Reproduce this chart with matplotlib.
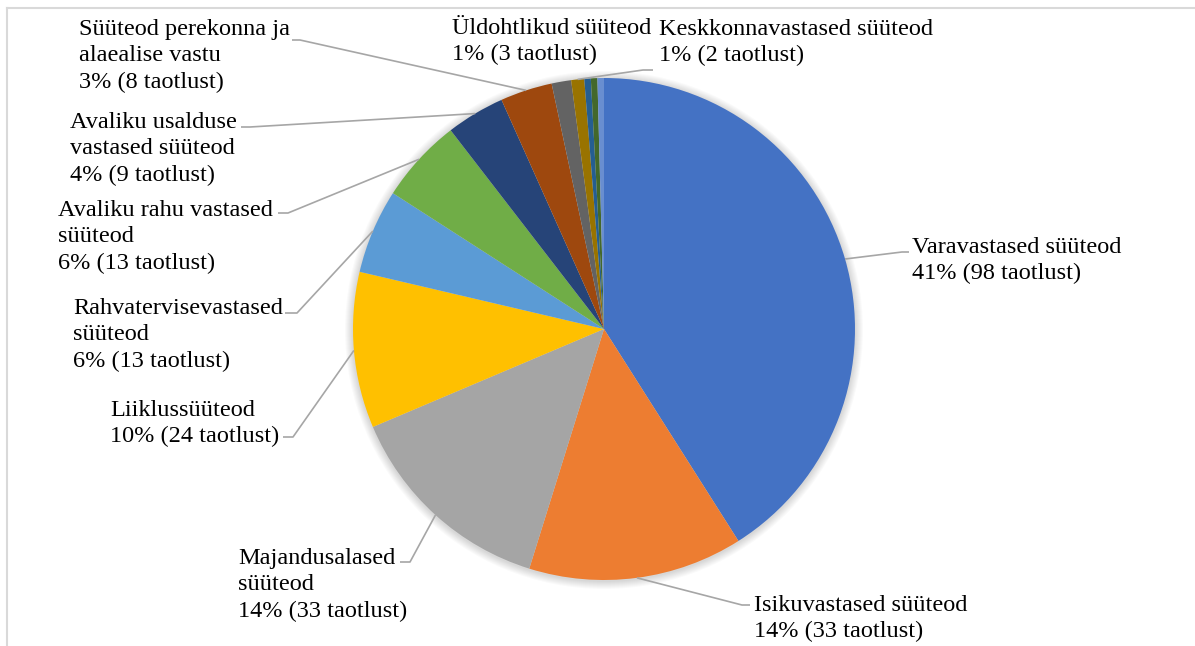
import numpy as np
import matplotlib.pyplot as plt
from matplotlib.patches import Circle

# counts per crime category (clockwise from 12 o'clock)
categories = [
    "Varavastased süüteod",
    "Isikuvastased süüteod",
    "Majandusalased\nsüüteod",
    "Liiklussüüteod",
    "Rahvatervisevastased\nsüüteod",
    "Avaliku rahu vastased\nsüüteod",
    "Avaliku usalduse\nvastased süüteod",
    "Süüteod perekonna ja\nalaealise vastu",
    "Üldohtlikud süüteod",
    "Keskkonnavastased süüteod",
    "",
    "",
    "",
]
counts = [98, 33, 33, 24, 13, 13, 9, 8, 3, 2, 1, 1, 1]
pct_shown = [41, 14, 14, 10, 6, 6, 4, 3, 1, 1, None, None, None]

colors = ["#4472C4", "#ED7D31", "#A5A5A5", "#FFC000", "#5B9BD5", "#70AD47",
          "#264478", "#9E480E", "#636363", "#997300", "#255E91", "#43682B",
          "#698ED0"]

# label placement in pixels: (text x, first line centre y, elbow x, elbow y, tail x)
W, H = 1195, 646
label_pos = [
    (912, 246, 902, 252, 909),
    (754, 604, 742, 605, 750),
    (238, 557, 410, 562, 400),
    (110, 409, 293, 437, 283),
    (73, 307, 297, 313, 285),
    (58, 209, 288, 213, 278),
    (70, 121, 250, 127, 241),
    (79, 28, 300, 40, 292),
    (452, 27, None, None, None),
    (659, 28, 643, 70, 653),
]

plt.rcParams["font.family"] = ["Liberation Serif", "DejaVu Serif"]

fig = plt.figure(figsize=(W / 100, H / 100), dpi=100)
ax = fig.add_axes([0, 0, 1, 1])

cx, cy, r = 604, H - 329, 251

# soft shadow around the pie
for k in range(8, 0, -1):
    ax.add_patch(Circle((cx, cy - 1), r + k, color="black", alpha=0.018, lw=0, zorder=1))

wedges, _ = ax.pie(counts, colors=colors, startangle=90, counterclock=False,
                   center=(cx, cy), radius=r, wedgeprops=dict(linewidth=0))
for w in wedges:
    w.set_zorder(2)

line_col = "#A6A6A6"
for i, pos in enumerate(label_pos):
    tx, ty, ex, ey, tail = pos
    text = f"{categories[i]}\n{pct_shown[i]}% ({counts[i]} taotlust)"
    ax.text(tx, H - ty + 9, text, ha="left", va="top", fontsize=17.5,
            linespacing=1.33, color="black", zorder=5)
    if ex is None:
        continue
    w = wedges[i]
    mid = np.deg2rad((w.theta1 + w.theta2) / 2)
    sx, sy = cx + r * np.cos(mid), cy + r * np.sin(mid)
    ax.plot([sx, ex, tail], [sy, H - ey, H - ey], color=line_col, lw=1.2,
            zorder=3, solid_capstyle="butt")

# chart border (only top and left edges are visible in the crop)
ax.plot([7, W], [H - 8, H - 8], color="#D9D9D9", lw=1.5, zorder=0)
ax.plot([7, 7], [0, H - 8], color="#D9D9D9", lw=1.5, zorder=0)

ax.set_xlim(0, W)
ax.set_ylim(0, H)
ax.set_aspect("equal")
ax.axis("off")

fig.savefig("out.png", dpi=100, facecolor="white")
